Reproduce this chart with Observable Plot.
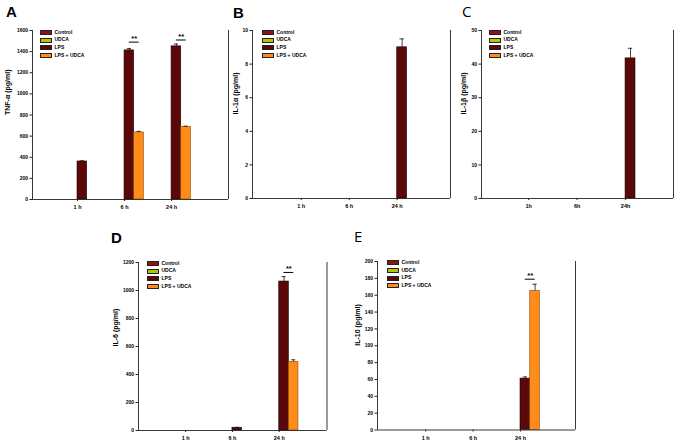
<!DOCTYPE html>
<html>
<head>
<meta charset="utf-8">
<script src="https://cdn.jsdelivr.net/npm/d3@7"></script>
<script src="https://cdn.jsdelivr.net/npm/@observablehq/plot@0.6"></script>
<style>
  html, body { margin: 0; padding: 0; background: #fff; }
  #fig { position: relative; width: 675px; height: 446px; overflow: hidden; font-family: "Liberation Sans", Arial, sans-serif; }
  #fig svg { position: absolute; left: 0; top: 0; }
  .letter { position: absolute; font-size: 15px; line-height: 1; color: #000; }
  .legend { position: absolute; font-size: 5px; font-weight: bold; line-height: 7.7px; }
  .legend div { display: flex; align-items: center; height: 7.7px; }
  .legend span.sw { display: inline-block; width: 12px; height: 5px; border: 0.7px solid #222; margin-right: 2.5px; box-sizing: border-box; }
</style>
</head>
<body>
<div id="fig"></div>
<script>
// ---- data ----
const groups = ["1 h", "6 h", "24 h"];
const groupsC = ["1h", "6h", "24h"];
const series = ["Control", "UDCA", "LPS", "LPS + UDCA"];
const seriesColors = ["#8b1414", "#b8c400", "#5a0808", "#ff8c1a"];

// panel A: TNF-α
const tnfControl = [0, 0, 0];
const tnfUDCA = [0, 0, 0];
const tnfLPS = [360, 1412, 1450];
const tnfLPSUDCA = [0, 635, 688];
const tnfErrLPS = [6, 18, 22];
const tnfErrLPSUDCA = [0, 10, 6];

// panel B: IL-1α
const il1aControl = [0, 0, 0];
const il1aUDCA = [0, 0, 0];
const il1aLPS = [0, 0, 9.0];
const il1aLPSUDCA = [0, 0, 0];
const il1aErrLPS = [0, 0, 0.5];
const il1aErrLPSUDCA = [0, 0, 0];

// panel C: IL-1β
const il1bControl = [0, 0, 0];
const il1bUDCA = [0, 0, 0];
const il1bLPS = [0, 0, 41.7];
const il1bLPSUDCA = [0, 0, 0];
const il1bErrLPS = [0, 0, 3.0];
const il1bErrLPSUDCA = [0, 0, 0];

// panel D: IL-6
const il6Control = [0, 0, 0];
const il6UDCA = [0, 0, 0];
const il6LPS = [0, 20, 1064];
const il6LPSUDCA = [0, 0, 490];
const il6ErrLPS = [0, 2, 35];
const il6ErrLPSUDCA = [0, 0, 15];

// panel E: IL-10
const il10Control = [0, 0, 0];
const il10UDCA = [0, 0, 0];
const il10LPS = [0, 0, 61];
const il10LPSUDCA = [0, 0, 165];
const il10ErrLPS = [0, 0, 2];
const il10ErrLPSUDCA = [0, 0, 8];

// significance markers (group index 1..3, y value of bracket)
const sigA = [{g: 2, y: 1490}, {g: 3, y: 1510}];
const sigD = [{g: 3, y: 1129}];
const sigE = [{g: 3, y: 179}];

// ---- layout (pixels) ----
const W = 675, H = 446;
const panels = [
  {letter: "A", bold: true, lx: 6, ly: 4, left: 32, right: 228, top: 30, bottom: 199, xdom: [0.043, 4.21],
   ymax: 1600, ystep: 200, label: "TNF-α (pg/ml)", labelOff: 25, legX: 40, legY: 28.5, ticks: groups,
   vals: [tnfControl, tnfUDCA, tnfLPS, tnfLPSUDCA], errs: [null, null, tnfErrLPS, tnfErrLPSUDCA], sig: sigA},
  {letter: "B", bold: true, lx: 233, ly: 5, left: 252, right: 450, top: 30, bottom: 198, xdom: [-0.015, 4.11],
   ymax: 10, ystep: 2, label: "IL-1α (pg/ml)", labelOff: 17, legX: 262, legY: 28.5, ticks: groups,
   vals: [il1aControl, il1aUDCA, il1aLPS, il1aLPSUDCA], errs: [null, null, il1aErrLPS, il1aErrLPSUDCA], sig: []},
  {letter: "C", bold: false, lx: 462, ly: 4, left: 481, right: 673, top: 30, bottom: 198, xdom: [0.025, 3.99],
   ymax: 50, ystep: 10, label: "IL-1β (pg/ml)", labelOff: 18, legX: 489, legY: 28.5, ticks: groupsC,
   vals: [il1bControl, il1bUDCA, il1bLPS, il1bLPSUDCA], errs: [null, null, il1bErrLPS, il1bErrLPSUDCA], sig: []},
  {letter: "D", bold: true, lx: 111, ly: 230, left: 138, right: 326.5, top: 262, bottom: 430, xdom: [-0.006, 4.02],
   ymax: 1200, ystep: 200, label: "IL-6 (pg/ml)", labelOff: 23, legX: 147, legY: 259.5, ticks: groups,
   vals: [il6Control, il6UDCA, il6LPS, il6LPSUDCA], errs: [null, null, il6ErrLPS, il6ErrLPSUDCA], sig: sigD},
  {letter: "E", bold: false, lx: 354, ly: 229, left: 377, right: 575, top: 261, bottom: 429.5, xdom: [-0.017, 4.16],
   ymax: 200, ystep: 20, label: "IL-10 (pg/ml)", labelOff: 20, legX: 387, legY: 259, ticks: groups,
   vals: [il10Control, il10UDCA, il10LPS, il10LPSUDCA], errs: [null, null, il10ErrLPS, il10ErrLPSUDCA], sig: sigE}
];

const bw = 0.205; // bar width in group units
const offsets = [-2, -1, 0, 1]; // bar slots relative to group centre

const fig = document.getElementById("fig");

for (const p of panels) {
  const rows = [];
  p.vals.forEach((arr, si) => {
    arr.forEach((v, gi) => {
      const e = p.errs[si] ? p.errs[si][gi] : 0;
      rows.push({s: series[si], si, g: gi + 1, v, e});
    });
  });
  const bars = rows.filter(d => d.v > 0);
  const errRows = bars.filter(d => d.e > 0);
  const cx = d => d.g + (offsets[d.si] + 0.5) * bw;

  const chart = Plot.plot({
    width: W, height: H,
    marginLeft: p.left, marginRight: W - p.right, marginTop: p.top, marginBottom: H - p.bottom,
    style: {background: "transparent", fontFamily: "'Liberation Sans', Arial, sans-serif", overflow: "visible"},
    x: {domain: p.xdom, axis: null},
    y: {domain: [0, p.ymax], axis: null},
    color: {domain: series, range: seriesColors},
    marks: [
      Plot.rect(bars, {
        x1: d => d.g + offsets[d.si] * bw,
        x2: d => d.g + (offsets[d.si] + 1) * bw,
        y1: 0, y2: "v", fill: "s",
        stroke: d => d.si === 3 ? "#8a4a00" : "#1a0000", strokeWidth: 0.6
      }),
      Plot.ruleX(errRows, {x: cx, y1: "v", y2: d => d.v + d.e, stroke: "#111", strokeWidth: 0.8}),
      Plot.ruleY(errRows, {y: d => d.v + d.e, x1: d => cx(d) - 0.045, x2: d => cx(d) + 0.045, stroke: "#111", strokeWidth: 0.8}),
      Plot.ruleY(p.sig, {y: "y", x1: d => d.g + 0.1, x2: d => d.g + 0.31, stroke: "#000", strokeWidth: 1}),
      Plot.text(p.sig, {x: d => d.g + 0.205, y: "y", text: () => "**", dy: -3.5, fontSize: 7.5, fontWeight: "bold"}),
      Plot.ruleY([0], {stroke: "#222", strokeWidth: 0.9}),
      Plot.ruleX([p.xdom[0]], {stroke: "#222", strokeWidth: 0.9}),
      Plot.ruleX([p.xdom[1]], {stroke: "#222", strokeWidth: 0.9}),
      Plot.axisY({ticks: d3.range(0, p.ymax + p.ystep / 2, p.ystep), tickFormat: d => String(d), tickSize: 2.5, tickPadding: 2,
                  fontSize: 5, fontWeight: "bold", stroke: "#222", label: null}),
      Plot.axisX({ticks: [1, 2, 3], tickFormat: i => p.ticks[i - 1], tickSize: 2, tickPadding: 4,
                  fontSize: 5.5, fontWeight: "bold", stroke: "#222", label: null}),
      Plot.text([p.label], {frameAnchor: "left", dx: -p.labelOff, rotate: -90, fontSize: 7, fontWeight: "bold"})
    ]
  });
  fig.appendChild(chart);

  const letter = document.createElement("div");
  letter.className = "letter";
  letter.textContent = p.letter;
  letter.style.left = p.lx + "px";
  letter.style.top = p.ly + "px";
  letter.style.fontWeight = p.bold ? "bold" : "normal";
  if (!p.bold) letter.style.fontFamily = "'Open Sans', sans-serif";
  fig.appendChild(letter);

  const leg = document.createElement("div");
  leg.className = "legend";
  leg.style.left = p.legX + "px";
  leg.style.top = p.legY + "px";
  series.forEach((s, i) => {
    const row = document.createElement("div");
    const sw = document.createElement("span");
    sw.className = "sw";
    sw.style.background = seriesColors[i];
    row.appendChild(sw);
    row.appendChild(document.createTextNode(s));
    leg.appendChild(row);
  });
  fig.appendChild(leg);
}
</script>
</body>
</html>
